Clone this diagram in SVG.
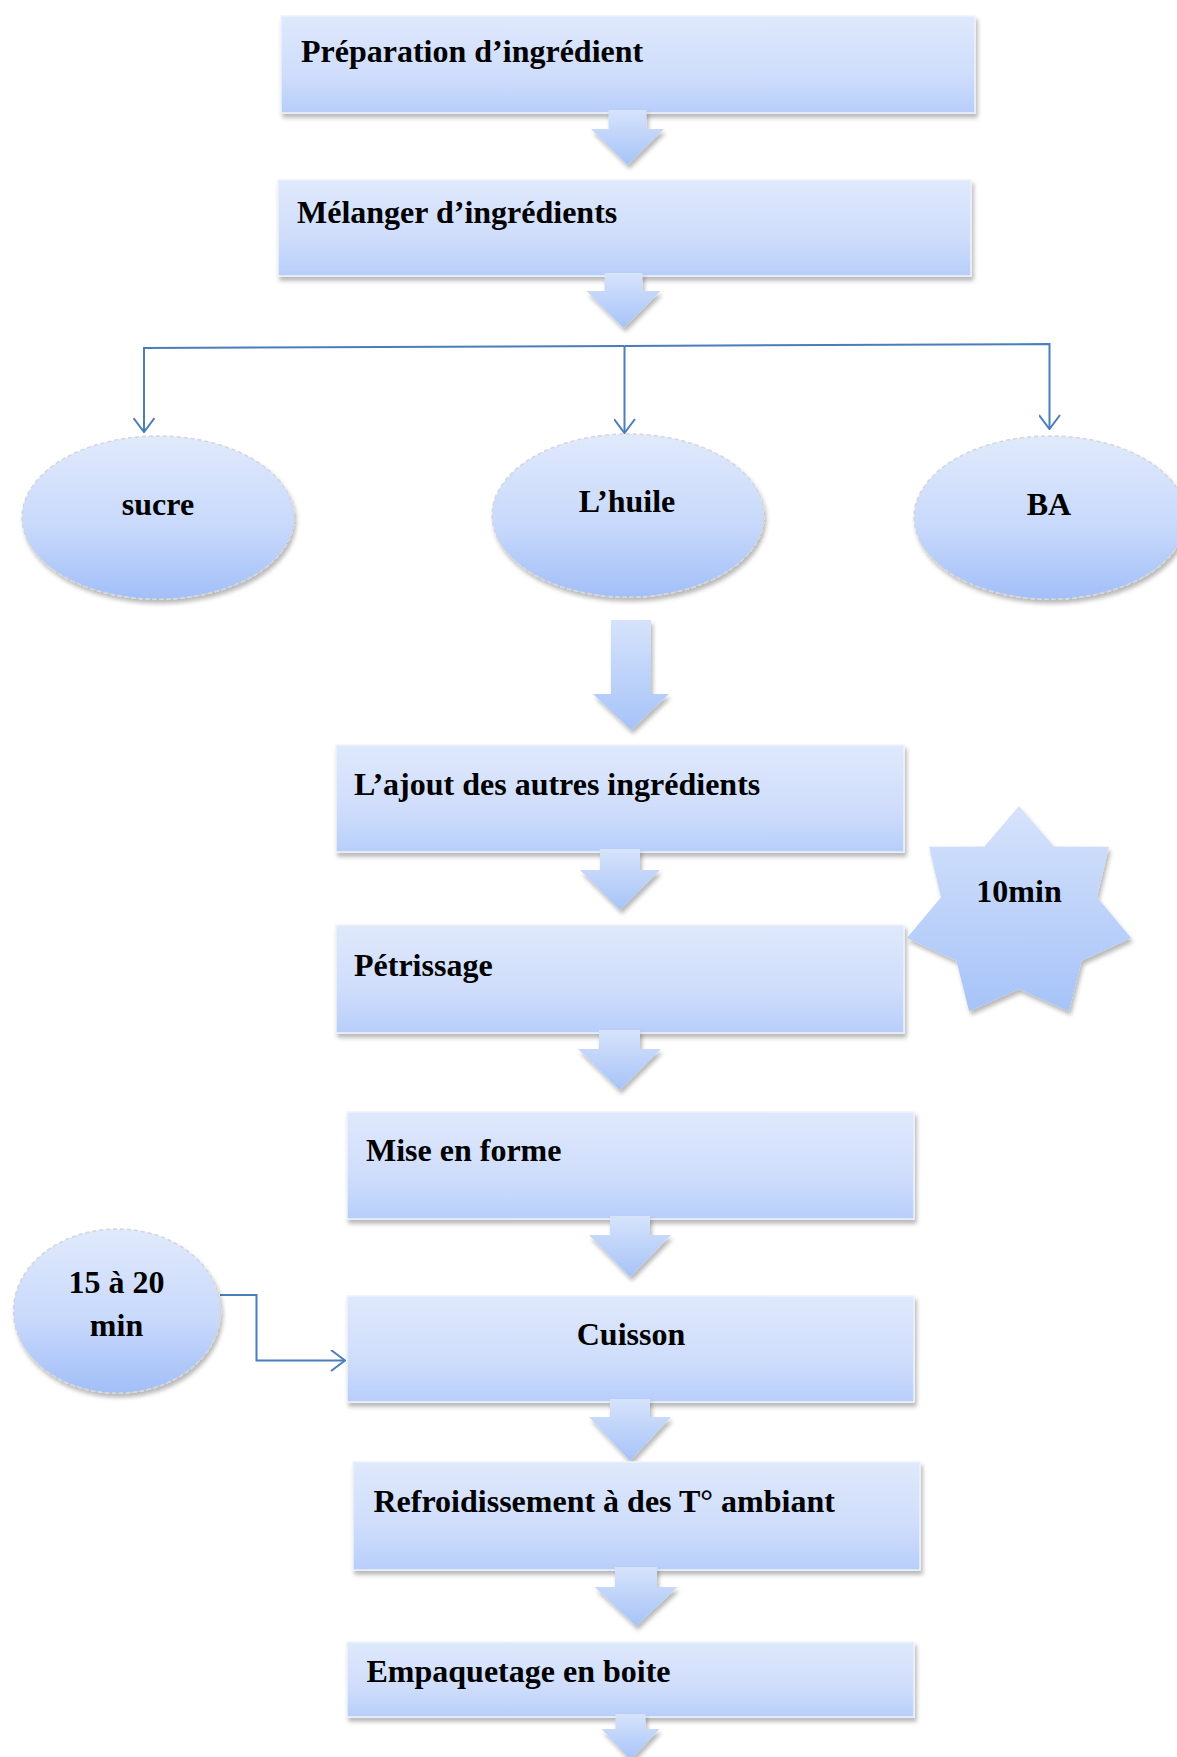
<svg xmlns="http://www.w3.org/2000/svg" width="1177" height="1757" viewBox="0 0 1177 1757">
<defs>
<linearGradient id="gBox" x1="0" y1="0" x2="0" y2="1">
<stop offset="0" stop-color="#dfe9fc"/><stop offset="0.6" stop-color="#cfddfb"/><stop offset="1" stop-color="#b7cefa"/>
</linearGradient>
<linearGradient id="gEll" x1="0" y1="0" x2="0" y2="1">
<stop offset="0" stop-color="#e1eafc"/><stop offset="0.55" stop-color="#c8d9fb"/><stop offset="1" stop-color="#a2bff8"/>
</linearGradient>
<linearGradient id="gArr" x1="0" y1="0" x2="0" y2="1">
<stop offset="0" stop-color="#d6e3fb"/><stop offset="1" stop-color="#a6c3f8"/>
</linearGradient>
<filter id="sh" x="-10%" y="-10%" width="125%" height="130%">
<feDropShadow dx="2" dy="4" stdDeviation="2" flood-color="#000" flood-opacity="0.28"/>
</filter>
<marker id="chev" viewBox="0 0 16 22" refX="15" refY="11" markerWidth="16" markerHeight="22" markerUnits="userSpaceOnUse" orient="auto">
<path d="M1,0.5 L15,11 L1,21.5" fill="none" stroke="#4a7ebb" stroke-width="2"/>
</marker>
<style>
.box{fill:url(#gBox);stroke:#eef2fa;stroke-width:1.5;filter:url(#sh)}
.ell{fill:url(#gEll);stroke:#d2d6dc;stroke-width:1.5;stroke-dasharray:4 3;filter:url(#sh)}
.arr{fill:url(#gArr);filter:url(#sh)}
.t{font-family:"Liberation Serif","Times New Roman",serif;font-weight:bold;font-size:32px;fill:#000}
.c{text-anchor:middle}
.ln{fill:none;stroke:#4a7ebb;stroke-width:2;marker-end:url(#chev)}
</style>
</defs>
<rect width="1177" height="1757" fill="#fff"/>

<g id="connectors">
<path class="ln" d="M624.5,346 L144,348 L144,432"/>
<path class="ln" d="M624.5,346 L624.5,433"/>
<path class="ln" d="M624.5,346 L1049.5,344 L1049.5,429"/>
<path class="ln" d="M220,1295 L256.5,1295 L256.5,1360.5 L345,1360.5"/>
</g>

<g id="n1"><rect class="box" x="281" y="16" width="694" height="97"/><text class="t" x="301" y="62">Préparation d’ingrédient</text></g>
<g id="a1"><path class="arr" d="M608.5,110 L646.5,110 L646.5,129 L664,129 L627.5,165 L591,129 L608.5,129 Z"/></g>

<g id="n2"><rect class="box" x="278" y="180" width="693" height="96"/><text class="t" x="297" y="223">Mélanger d’ingrédients</text></g>
<g id="a2"><path class="arr" d="M604.5,273 L642.5,273 L642.5,291 L660.5,291 L623.5,328 L586.5,291 L604.5,291 Z"/></g>

<g id="n-sucre"><ellipse class="ell" cx="158" cy="517.5" rx="136" ry="81.5"/><text class="t c" x="158" y="515">sucre</text></g>
<g id="n-huile"><ellipse class="ell" cx="628" cy="515.5" rx="136" ry="81.5"/><text class="t c" x="627" y="512">L’huile</text></g>
<g id="n-ba"><ellipse class="ell" cx="1050" cy="517.5" rx="136" ry="81.5"/><text class="t c" x="1049" y="515">BA</text></g>

<g id="a3"><path class="arr" d="M611,620 L651,620 L651,694 L669,694 L631,730 L593,694 L611,694 Z"/></g>

<g id="n3"><rect class="box" x="336" y="745" width="568" height="107"/><text class="t" x="354" y="795">L’ajout des autres ingrédients</text></g>
<g id="a4"><path class="arr" d="M600,849 L640,849 L640,870 L660,870 L620,910 L580,870 L600,870 Z"/></g>

<g id="n4"><rect class="box" x="336" y="925" width="568" height="108"/><text class="t" x="354" y="976">Pétrissage</text></g>

<g id="n-10min"><polygon class="arr" points="1019,806 1053.7,846.4 1108.9,846.7 1097,897.3 1131.1,938 1081.5,960.8 1068.9,1011.3 1019,989 969.1,1011.3 956.5,960.8 906.9,938 941,897.3 929.1,846.7 984.3,846.4"/><text class="t c" x="1019" y="902">10min</text></g>

<g id="a5"><path class="arr" d="M599,1030 L640,1030 L640,1049 L661,1049 L619.5,1090 L578,1049 L599,1049 Z"/></g>

<g id="n5"><rect class="box" x="347" y="1112" width="567" height="107"/><text class="t" x="366" y="1161">Mise en forme</text></g>
<g id="a6"><path class="arr" d="M610,1216 L650,1216 L650,1235 L671,1235 L630,1277 L589,1235 L610,1235 Z"/></g>

<g id="n-time"><ellipse class="ell" cx="117" cy="1311" rx="103.5" ry="82"/><text class="t c" x="116.5" y="1293">15 à 20</text><text class="t c" x="116.5" y="1336">min</text></g>

<g id="n6"><rect class="box" x="347" y="1296" width="567" height="106"/><text class="t c" x="631" y="1345">Cuisson</text></g>
<g id="a7"><path class="arr" d="M610,1399 L650,1399 L650,1417 L671,1417 L630,1461 L589,1417 L610,1417 Z"/></g>

<g id="n7"><rect class="box" x="353" y="1462" width="567" height="108"/><text class="t" x="373.5" y="1512">Refroidissement à des T° ambiant</text></g>
<g id="a8"><path class="arr" d="M615,1567 L657,1567 L657,1587 L677.5,1587 L636,1626 L594.5,1587 L615,1587 Z"/></g>

<g id="n8"><rect class="box" x="347" y="1642" width="567" height="75"/><text class="t" x="366.5" y="1682">Empaquetage en boite</text></g>
<g id="a9"><path class="arr" d="M615.5,1714 L645.5,1714 L645.5,1729 L659.5,1729 L630.5,1760 L601.5,1729 L615.5,1729 Z"/></g>
</svg>
